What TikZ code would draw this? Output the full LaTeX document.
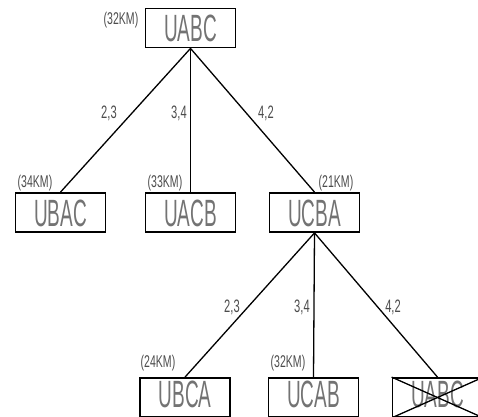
\documentclass[tikz,border=0pt]{standalone}
\usepackage{fontspec}
\newfontfamily\bigfont[FakeStretch=0.5]{Liberation Sans}
\newfontfamily\smallfont[FakeStretch=0.62]{Liberation Sans}
\begin{document}
\begin{tikzpicture}[x=1pt,y=-1pt,
  box/.style={draw, line width=1.8pt, minimum width=90pt, minimum height=39pt, inner sep=0pt,
    text height=27pt, text depth=0pt,
    font=\bigfont\fontsize{38}{38}\selectfont, text=black!55},
  lowbox/.style={box, text depth=7pt},
  km/.style={inner sep=0pt, font=\smallfont\fontsize{17}{17}\selectfont, text=black!70},
  wt/.style={inner sep=0pt, font=\smallfont\fontsize{18}{18}\selectfont, text=black!70},
  edge/.style={line width=1.3pt}]
\useasboundingbox (0,0) rectangle (478,416);
% boxes
\node[box] (top) at (190.5,28) {UABC};
\node[box] (ubac) at (60.5,212.5) {UBAC};
\node[box] (uacb) at (190.5,212.5) {UACB};
\node[box] (ucba) at (314.5,212.5) {UCBA};
\node[lowbox] (ubca) at (185,397.5) {UBCA};
\node[lowbox] (ucab) at (313.5,397.5) {UCAB};
\node[lowbox] (uabcx) at (437.5,397.5) {UABC};
\draw[edge] (uabcx.north west) -- (uabcx.south east);
\draw[edge] (uabcx.south west) -- (uabcx.north east);
% distance labels
\node[km] (k1) at (121,20) {(32KM)};
\node[km] (k2) at (35,183) {(34KM)};
\node[km] (k3) at (165,183) {(33KM)};
\node[km] (k4) at (336,183) {(21KM)};
\node[km] (k5) at (158,363) {(24KM)};
\node[km] (k6) at (288,363) {(32KM)};
% connectors
\draw[edge] (top.south) -- (ubac.north);
\draw[edge] (top.south) -- (uacb.north);
\draw[edge] (top.south) -- (ucba.north);
\draw[edge] (ucba.south) -- (ubca.north);
\draw[edge] (ucba.south) -- (ucab.north);
\draw[edge] (ucba.south) -- (uabcx.north);
% weights
\node[wt] (w1) at (109,113) {2,3};
\node[wt] (w2) at (179,113) {3,4};
\node[wt] (w3) at (266,113) {4,2};
\node[wt] (w4) at (232,307) {2,3};
\node[wt] (w5) at (302,307) {3,4};
\node[wt] (w6) at (393,307) {4,2};
\end{tikzpicture}
\end{document}
